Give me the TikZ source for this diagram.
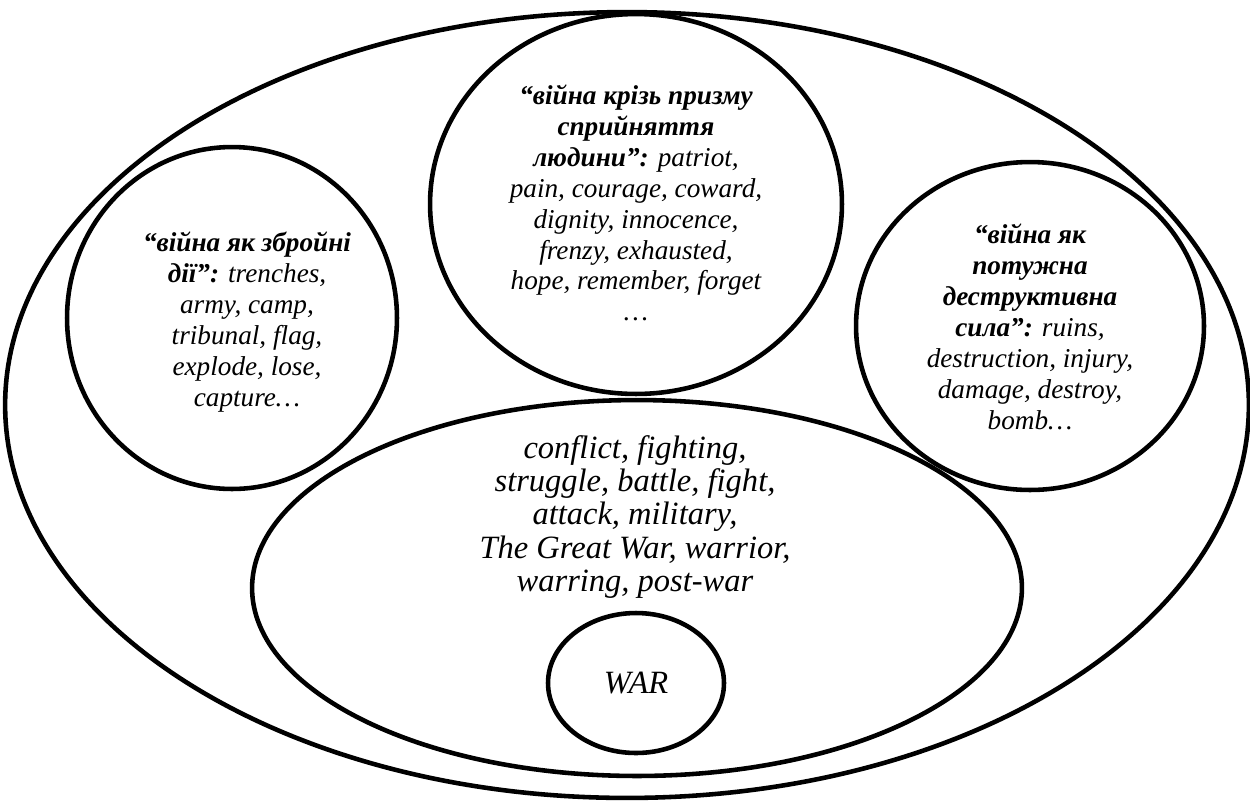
\documentclass[tikz,border=0pt]{standalone}
\usepackage{fontspec}
\setmainfont{Liberation Serif}
\usetikzlibrary{shapes.geometric}

\begin{document}
\begin{tikzpicture}[x=0.02cm, y=-0.02cm,
    ring/.style={ellipse, draw, line width=2.6pt, inner sep=0pt},
    words/.style={align=center, font=\itshape\fontsize{15.5}{17.6}\selectfont},
    bigwords/.style={align=center, font=\itshape\fontsize{18.5}{18.9}\selectfont}]
    \useasboundingbox (0,0) rectangle (1250,802);

    % Rings {outer, top, left, right, core, war}
    \node [ring, minimum width=24.88cm, minimum height=15.72cm] (outer) at (627,405) {};
    \node [ring, minimum width=8.24cm,  minimum height=7.6cm]   (top)   at (636,204) {};
    \node [ring, minimum width=6.6cm,   minimum height=6.84cm]  (left)  at (232,318) {};
    \node [ring, minimum width=6.96cm,  minimum height=6.56cm]  (right) at (1030,326) {};
    \node [ring, minimum width=15.4cm,  minimum height=7.52cm]  (core)  at (637,588) {};
    \node [ring, minimum width=3.52cm,  minimum height=2.8cm]   (war)   at (636,683) {};

    % Texts
    \node [words] (toptext) at (636,203)
        {\textbf{“війна крізь призму}\\ \textbf{сприйняття}\\ \textbf{людини”:} patriot,\\
         pain, courage, coward,\\ dignity, innocence,\\ frenzy, exhausted,\\
         hope, remember, forget\\ \dots};
    \node [words] (lefttext) at (247,322)
        {\textbf{“війна як збройні}\\ \textbf{дії”:} trenches,\\ army, camp,\\
         tribunal, flag,\\ explode, lose,\\ capture\dots};
    \node [words] (righttext) at (1030,327)
        {\textbf{“війна як}\\ \textbf{потужна}\\ \textbf{деструктивна}\\ \textbf{сила”:} ruins,\\
         destruction, injury,\\ damage, destroy,\\ bomb\dots};
    \node [bigwords] (coretext) at (635,517)
        {conflict, fighting,\\ struggle, battle, fight,\\ attack, military,\\
         The Great War, warrior,\\ warring, post-war};
    \node [bigwords] (wartext) at (war) {WAR};

\end{tikzpicture}
\end{document}
